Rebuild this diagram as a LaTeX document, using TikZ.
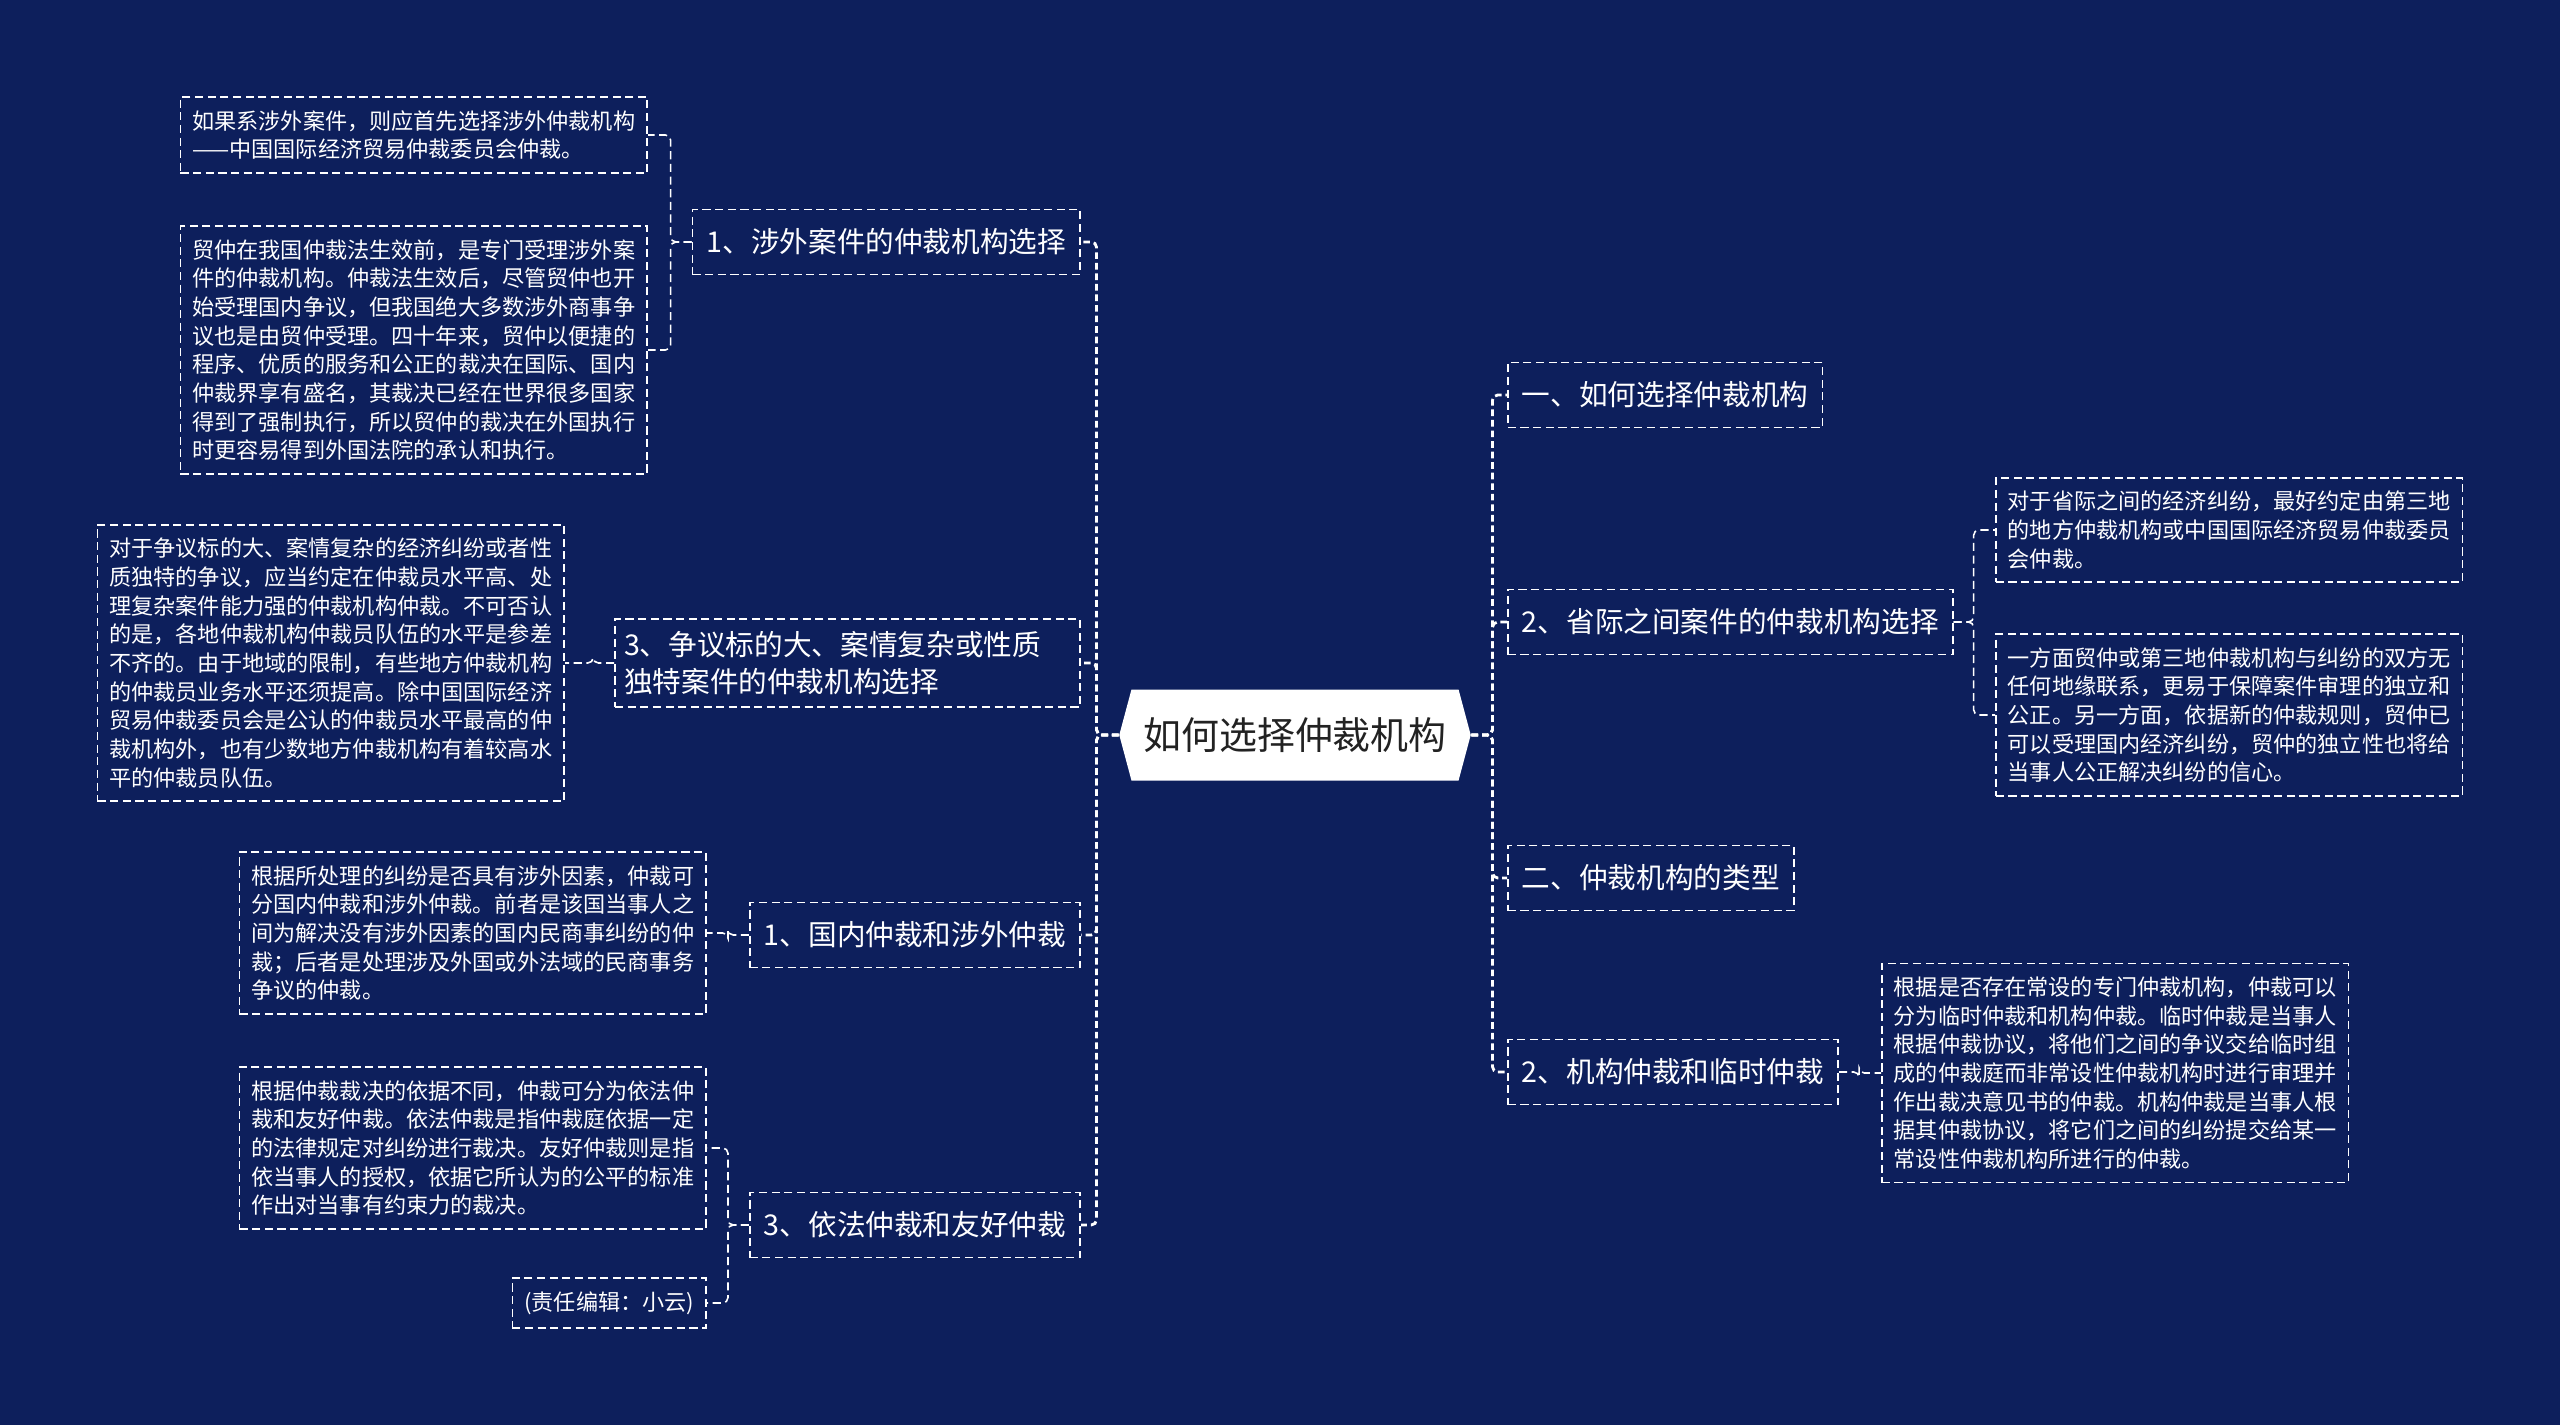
\documentclass[tikz,border=0pt]{standalone}
\usepackage{fontspec}
\setmainfont{Noto Sans CJK SC}
\usetikzlibrary{positioning, shapes.symbols}
\definecolor{navybg}{HTML}{0D1F5C}
\definecolor{rootink}{HTML}{222222}

\tikzset{
  leafbox/.style={draw=white, line width=0.45pt, dash pattern=on 2.3pt off 1.3pt,
    text=white, align=left, font=\fontsize{6.3pt}{8.15pt}\selectfont,
    inner xsep=3.4pt, inner ysep=3.8pt},
  branchbox/.style={draw=white, line width=0.45pt, dash pattern=on 2.3pt off 1.3pt,
    text=white, align=left, font=\fontsize{8.15pt}{10.7pt}\selectfont,
    inner xsep=4pt, minimum height=0.65cm},
  rootbox/.style={signal, signal to=west and east, signal pointer angle=150,
    fill=white, text=rootink, font=\fontsize{10.8pt}{13pt}\selectfont,
    minimum width=3.43cm, minimum height=0.91cm},
  trunk/.style={draw=white, line width=0.8pt, dash pattern=on 1.9pt off 1.1pt, rounded corners=1.5pt},
  twig/.style={draw=white, line width=0.45pt, dash pattern=on 2.3pt off 1.3pt, rounded corners=1.5pt}
}

\begin{document}
\begin{tikzpicture}

% Background
\fill[navybg] (0,0) rectangle (25.6,14.25);

% Root
\node[rootbox] (root) at (12.95,6.90) {如何选择仲裁机构};

% Left branches
\node[branchbox, anchor=east] (fwcase) at (10.81,11.83) {1、涉外案件的仲裁机构选择};
\node[branchbox, anchor=east, text width=4.47cm, inner xsep=2.6pt] (bigcase) at (10.81,7.62) {3、争议标的大、案情复杂或性质\\独特案件的仲裁机构选择};
\node[branchbox, anchor=east] (domfw) at (10.81,4.90) {1、国内仲裁和涉外仲裁};
\node[branchbox, anchor=east] (lawamic) at (10.81,2.00) {3、依法仲裁和友好仲裁};

% Right branches
\node[branchbox, anchor=west] (howto) at (15.07,10.30) {一、如何选择仲裁机构};
\node[branchbox, anchor=west] (provcase) at (15.07,8.03) {2、省际之间案件的仲裁机构选择};
\node[branchbox, anchor=west] (types) at (15.07,5.47) {二、仲裁机构的类型};
\node[branchbox, anchor=west] (instadhoc) at (15.07,3.53) {2、机构仲裁和临时仲裁};

% Left leaves
\node[leafbox, anchor=east] (fwcasea) at (6.48,12.90) {如果系涉外案件，则应首先选择涉外仲裁机构\\——中国国际经济贸易仲裁委员会仲裁。};
\node[leafbox, anchor=east] (fwcaseb) at (6.48,10.75) {贸仲在我国仲裁法生效前，是专门受理涉外案\\件的仲裁机构。仲裁法生效后，尽管贸仲也开\\始受理国内争议，但我国绝大多数涉外商事争\\议也是由贸仲受理。四十年来，贸仲以便捷的\\程序、优质的服务和公正的裁决在国际、国内\\仲裁界享有盛名，其裁决已经在世界很多国家\\得到了强制执行，所以贸仲的裁决在外国执行\\时更容易得到外国法院的承认和执行。};
\node[leafbox, anchor=east] (bigcasea) at (5.65,7.62) {对于争议标的大、案情复杂的经济纠纷或者性\\质独特的争议，应当约定在仲裁员水平高、处\\理复杂案件能力强的仲裁机构仲裁。不可否认\\的是，各地仲裁机构仲裁员队伍的水平是参差\\不齐的。由于地域的限制，有些地方仲裁机构\\的仲裁员业务水平还须提高。除中国国际经济\\贸易仲裁委员会是公认的仲裁员水平最高的仲\\裁机构外，也有少数地方仲裁机构有着较高水\\平的仲裁员队伍。};
\node[leafbox, anchor=east] (domfwa) at (7.07,4.92) {根据所处理的纠纷是否具有涉外因素，仲裁可\\分国内仲裁和涉外仲裁。前者是该国当事人之\\间为解决没有涉外因素的国内民商事纠纷的仲\\裁；后者是处理涉及外国或外法域的民商事务\\争议的仲裁。};
\node[leafbox, anchor=east] (lawamica) at (7.07,2.77) {根据仲裁裁决的依据不同，仲裁可分为依法仲\\裁和友好仲裁。依法仲裁是指仲裁庭依据一定\\的法律规定对纠纷进行裁决。友好仲裁则是指\\依当事人的授权，依据它所认为的公平的标准\\作出对当事有约束力的裁决。};
\node[leafbox, anchor=east] (editor) at (7.07,1.22) {(责任编辑：小云)};

% Right leaves
\node[leafbox, anchor=west] (provcasea) at (19.95,8.95) {对于省际之间的经济纠纷，最好约定由第三地\\的地方仲裁机构或中国国际经济贸易仲裁委员\\会仲裁。};
\node[leafbox, anchor=west] (provcaseb) at (19.95,7.10) {一方面贸仲或第三地仲裁机构与纠纷的双方无\\任何地缘联系，更易于保障案件审理的独立和\\公正。另一方面，依据新的仲裁规则，贸仲已\\可以受理国内经济纠纷，贸仲的独立性也将给\\当事人公正解决纠纷的信心。};
\node[leafbox, anchor=west] (instadhoca) at (18.81,3.52) {根据是否存在常设的专门仲裁机构，仲裁可以\\分为临时仲裁和机构仲裁。临时仲裁是当事人\\根据仲裁协议，将他们之间的争议交给临时组\\成的仲裁庭而非常设性仲裁机构时进行审理并\\作出裁决意见书的仲裁。机构仲裁是当事人根\\据其仲裁协议，将它们之间的纠纷提交给某一\\常设性仲裁机构所进行的仲裁。};

% Root to branches
\foreach \b in {fwcase, bigcase, domfw, lawamic}
  \draw[trunk] (root.west) -- ++(-0.22,0) |- (\b.east);
\foreach \b in {howto, provcase, types, instadhoc}
  \draw[trunk] (root.east) -- ++(0.21,0) |- (\b.west);

% Branches to leaves
\foreach \p/\c in {fwcase/fwcasea, fwcase/fwcaseb, bigcase/bigcasea, domfw/domfwa, lawamic/lawamica, lawamic/editor}
  \draw[twig] (\p.west) -- ++(-0.21,0) |- (\c.east);
\foreach \p/\c in {provcase/provcasea, provcase/provcaseb, instadhoc/instadhoca}
  \draw[twig] (\p.east) -- ++(0.2,0) |- (\c.west);

\end{tikzpicture}
\end{document}
